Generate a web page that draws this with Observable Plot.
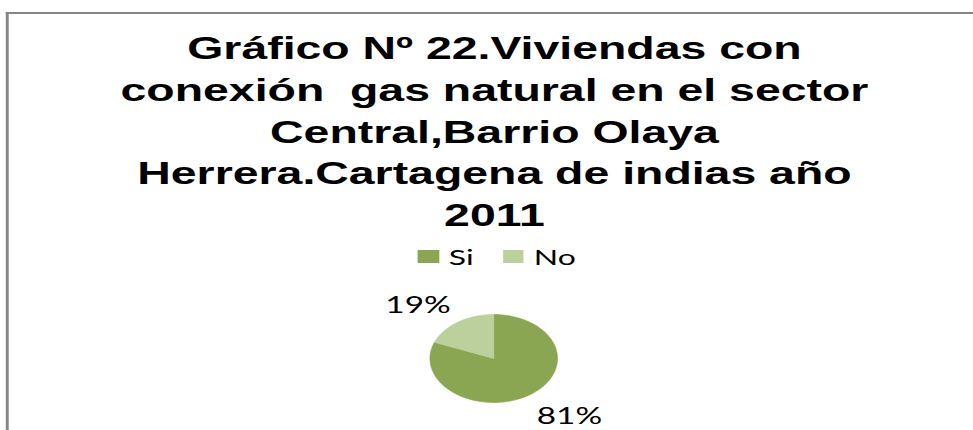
<!DOCTYPE html>
<html>
<head>
<meta charset="utf-8">
<script src="https://cdn.jsdelivr.net/npm/d3@7"></script>
<script src="https://cdn.jsdelivr.net/npm/@observablehq/plot@0.6"></script>
<style>
  html, body { margin: 0; padding: 0; background: #fff; overflow: hidden; }
  #wrap { position: absolute; left: 0; top: 0; width: 671px; height: 430px;
          transform: scaleX(1.45); transform-origin: 0 0; }
  #frame { position: absolute; left: 4px; top: 12px; width: 800px; height: 600px;
           border-left: 2px solid #868686; border-top: 2px solid #868686; }
  #title { position: absolute; left: 0; top: 28px; width: 682px; text-align: center;
           font-family: "Liberation Sans", Arial, sans-serif; font-weight: bold;
           font-size: 32px; line-height: 41.75px; color: #000; white-space: pre; }
  #legend { position: absolute; left: 288px; top: 243px; display: flex; align-items: center;
            font-family: Lato, "Open Sans", sans-serif; font-size: 22px; color: #000; }
  .item { display: flex; align-items: center; margin-right: 20px; }
  .sw { width: 14.5px; height: 13px; margin-right: 7px; }
  #chart { position: absolute; left: 0; top: 0; }
</style>
</head>
<body>
<div id="wrap">
  <div id="frame"></div>
  <div id="title"></div>
  <div id="legend"></div>
  <div id="chart"></div>
</div>
<script>
const categories = ["Si", "No"];
const values = [81, 19];
const colors = ["#8ba652", "#bcd09b"];
const titleLines = [
  "Gráfico Nº 22.Viviendas con",
  "conexión  gas natural en el sector",
  "Central,Barrio Olaya",
  "Herrera.Cartagena de indias año",
  "2011"
];

document.getElementById("title").textContent = titleLines.join("\n");

const legend = document.getElementById("legend");
categories.forEach((c, i) => {
  const item = document.createElement("div");
  item.className = "item";
  const sw = document.createElement("div");
  sw.className = "sw";
  sw.style.background = colors[i];
  const t = document.createElement("span");
  t.textContent = c;
  item.appendChild(sw);
  item.appendChild(t);
  legend.appendChild(item);
});

const total = d3.sum(values);
const arcs = d3.pie().sort(null).value(d => d)(values);

const slicePts = [];
arcs.forEach((a, i) => {
  const k = categories[i];
  slicePts.push({x: 0, y: 0, k});
  const n = Math.max(2, Math.ceil((a.endAngle - a.startAngle) / (Math.PI / 180)));
  for (let j = 0; j <= n; j++) {
    const t = a.startAngle + (a.endAngle - a.startAngle) * j / n;
    slicePts.push({x: Math.sin(t), y: Math.cos(t), k});
  }
  slicePts.push({x: 0, y: 0, k});
});

const labels = arcs.map((a, i) => {
  const m = (a.startAngle + a.endAngle) / 2;
  const up = Math.cos(m) > 0;
  return {
    x: Math.sin(m) * 1.2,
    y: Math.cos(m) * 1.2,
    text: Math.round(values[i] / total * 100) + "%",
    anchor: Math.sin(m) < 0 ? "end" : "start",
    line: up ? "bottom" : "top",
    dy: up ? -2 : 5
  };
});

const plot = Plot.plot({
  width: 671,
  height: 430,
  marginLeft: 296,
  marginRight: 287,
  marginTop: 314,
  marginBottom: 28,
  x: {domain: [-1, 1], axis: null},
  y: {domain: [-1, 1], axis: null},
  color: {domain: categories, range: colors},
  style: {background: "transparent", overflow: "visible"},
  marks: [
    Plot.line(slicePts, {x: "x", y: "y", z: "k", fill: "k", stroke: "k", strokeWidth: 0.5, curve: "linear"}),
    ...labels.map(l => Plot.text([l], {
      x: "x", y: "y", text: "text",
      textAnchor: l.anchor, lineAnchor: l.line, dy: l.dy,
      fontFamily: "Lato, 'Open Sans', sans-serif", fontSize: 23, fill: "#000"
    }))
  ]
});
document.getElementById("chart").appendChild(plot);
</script>
</body>
</html>
